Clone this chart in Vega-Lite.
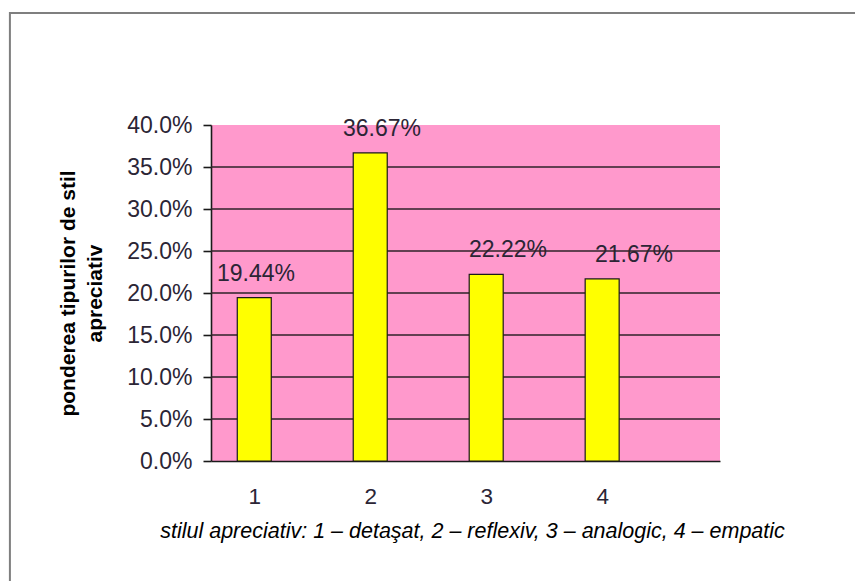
{
  "$schema": "https://vega.github.io/schema/vega-lite/v6.json",
  "width": 509,
  "height": 336,
  "autosize": {"type": "none"},
  "padding": {"left": 211, "top": 125, "right": 135, "bottom": 120},
  "background": "white",
  "config": {
    "font": "Liberation Sans",
    "view": {"fill": "#ff99cc", "stroke": null}
  },
  "datasets": {
    "main": [
      {"stil": 1, "pondere": 0.1944},
      {"stil": 2, "pondere": 0.3667},
      {"stil": 3, "pondere": 0.2222},
      {"stil": 4, "pondere": 0.2167}
    ],
    "grid": [
      {"nivel": 0.05}, {"nivel": 0.10}, {"nivel": 0.15}, {"nivel": 0.20},
      {"nivel": 0.25}, {"nivel": 0.30}, {"nivel": 0.35}
    ],
    "frame": [
      {"x1": -1.03, "x2": 7.5, "y1": -0.3, "y2": 0.5333}
    ]
  },
  "layer": [
    {
      "data": {"name": "main"},
      "mark": {"type": "text", "fontSize": 23, "color": "#2b2535", "baseline": "alphabetic", "dy": -17},
      "encoding": {
        "x": {"field": "stil", "type": "quantitative", "scale": {"domain": [0.643, 4.683], "nice": false, "zero": false}, "axis": null},
        "y": {"field": "pondere", "type": "quantitative", "scale": {"domain": [0, 0.4], "nice": false}},
        "text": {"field": "pondere", "type": "quantitative", "format": ".2%"}
      }
    },
    {
      "data": {"name": "grid"},
      "mark": {"type": "rule", "color": "#2e2329", "strokeWidth": 1.6},
      "encoding": {
        "y": {"field": "nivel", "type": "quantitative"}
      }
    },
    {
      "data": {"name": "main"},
      "mark": {"type": "bar", "size": 34, "fill": "#ffff00", "stroke": "#1a1a1a", "strokeWidth": 1.2},
      "encoding": {
        "x": {
          "field": "stil", "type": "quantitative",
          "scale": {"domain": [0.670, 4.973], "nice": false, "zero": false},
          "axis": {
            "values": [1, 2, 3, 4], "format": "d", "ticks": false, "grid": false,
            "domainColor": "#1a1a1a", "domainWidth": 1.6,
            "labelFontSize": 22.5, "labelColor": "#2b2535", "labelPadding": 24,
            "title": "stilul apreciativ: 1 – detaşat, 2 – reflexiv, 3 – analogic, 4 – empatic",
            "titleFontStyle": "italic", "titleFontWeight": "normal", "titleFontSize": 21.5,
            "titleColor": "#000000", "titleX": 261, "titleY": 76, "titleBaseline": "alphabetic", "titleAlign": "center"
          }
        },
        "y": {
          "field": "pondere", "type": "quantitative",
          "axis": {
            "values": [0, 0.05, 0.1, 0.15, 0.2, 0.25, 0.3, 0.35, 0.4], "format": ".1%",
            "grid": false, "domainColor": "#1a1a1a", "domainWidth": 1.6,
            "tickColor": "#1a1a1a", "tickWidth": 1.6, "tickSize": 8,
            "labelFontSize": 23, "labelColor": "#2b2535", "labelPadding": 11,
            "title": ["ponderea tipurilor de stil", "apreciativ"],
            "titleFontSize": 21, "titleFontWeight": "bold", "titleColor": "#000000",
            "titleLineHeight": 27, "titlePadding": 21
          }
        }
      }
    },
    {
      "data": {"name": "frame"},
      "mark": {"type": "rect", "filled": false, "stroke": "#7f7f7f", "strokeWidth": 2, "clip": false},
      "encoding": {
        "x": {"field": "x1", "type": "quantitative", "scale": {"domain": [0.670, 4.973], "nice": false, "zero": false}, "axis": null},
        "x2": {"field": "x2"},
        "y": {"field": "y1", "type": "quantitative"},
        "y2": {"field": "y2"}
      }
    }
  ],
  "resolve": {"scale": {"x": "independent"}}
}
